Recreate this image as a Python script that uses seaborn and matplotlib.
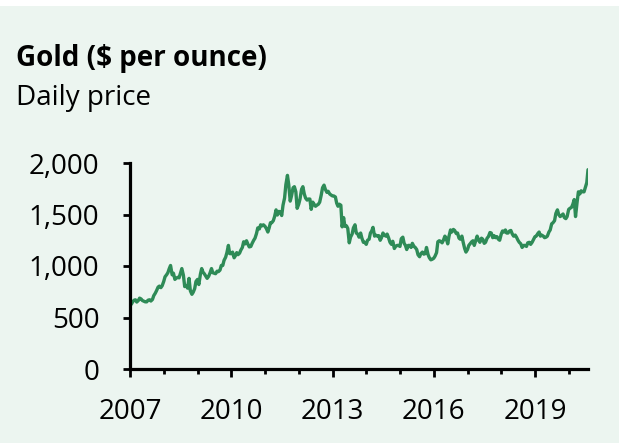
import numpy as np
import pandas as pd
import seaborn as sns
import matplotlib.pyplot as plt
import matplotlib.dates as mdates
from matplotlib.patches import Rectangle

# Preço do ouro (US$ por onça), dois valores por mês (dia 1 e dia 15)
gold_2007 = [632, 628, 655, 668, 672, 650, 665, 688, 680, 665, 658, 652,
             652, 668, 672, 660, 675, 712, 735, 760, 795, 805, 790, 808]
gold_2008 = [850, 895, 915, 935, 975, 1005, 915, 930, 870, 882, 890, 885,
             935, 975, 910, 800, 810, 785, 880, 760, 725, 745, 780, 850]
gold_2009 = [870, 820, 920, 975, 940, 925, 900, 880, 900, 930, 975, 935,
             930, 925, 950, 945, 960, 1005, 1005, 1055, 1085, 1130, 1200, 1120]
gold_2010 = [1120, 1135, 1080, 1100, 1130, 1110, 1125, 1155, 1180, 1235, 1215, 1245,
             1210, 1185, 1190, 1220, 1250, 1270, 1315, 1370, 1360, 1400, 1390, 1400]
gold_2011 = [1385, 1365, 1330, 1370, 1420, 1420, 1440, 1480, 1545, 1495, 1530, 1525,
             1490, 1590, 1660, 1790, 1880, 1790, 1630, 1680, 1760, 1770, 1720, 1560]
gold_2012 = [1600, 1650, 1745, 1770, 1700, 1660, 1640, 1650, 1650, 1550, 1620, 1600,
             1580, 1590, 1600, 1620, 1690, 1760, 1785, 1745, 1715, 1725, 1700, 1690]
gold_2013 = [1680, 1680, 1670, 1610, 1580, 1600, 1590, 1380, 1470, 1385, 1390, 1365,
             1225, 1280, 1310, 1370, 1400, 1320, 1310, 1280, 1320, 1270, 1230, 1230]
gold_2014 = [1210, 1250, 1260, 1320, 1340, 1375, 1290, 1300, 1290, 1295, 1250, 1275,
             1320, 1300, 1290, 1310, 1270, 1230, 1210, 1240, 1170, 1190, 1200, 1200]
gold_2015 = [1190, 1265, 1280, 1220, 1200, 1160, 1200, 1200, 1180, 1220, 1190, 1180,
             1160, 1110, 1090, 1120, 1135, 1115, 1120, 1180, 1110, 1080, 1060, 1065]
gold_2016 = [1075, 1095, 1130, 1235, 1245, 1240, 1225, 1250, 1290, 1270, 1215, 1290,
             1350, 1330, 1355, 1345, 1315, 1320, 1270, 1260, 1290, 1230, 1170, 1135]
gold_2017 = [1160, 1200, 1220, 1235, 1245, 1200, 1250, 1290, 1250, 1230, 1270, 1260,
             1220, 1230, 1270, 1285, 1325, 1320, 1275, 1295, 1275, 1285, 1260, 1250]
gold_2018 = [1310, 1340, 1330, 1350, 1320, 1320, 1340, 1345, 1310, 1290, 1300, 1280,
             1250, 1230, 1215, 1180, 1200, 1200, 1190, 1225, 1230, 1210, 1230, 1255]
gold_2019 = [1285, 1290, 1315, 1330, 1290, 1300, 1290, 1275, 1280, 1290, 1330, 1350,
             1410, 1420, 1440, 1510, 1545, 1500, 1480, 1490, 1505, 1470, 1460, 1480]
gold_2020 = [1550, 1560, 1570, 1600, 1645, 1480, 1620, 1720, 1700, 1730, 1720, 1720,
             1770, 1810, 1935]

prices = (gold_2007 + gold_2008 + gold_2009 + gold_2010 + gold_2011 + gold_2012 + gold_2013
          + gold_2014 + gold_2015 + gold_2016 + gold_2017 + gold_2018 + gold_2019 + gold_2020)
dates = list(pd.date_range('2007-01-01', '2020-07-15', freq='SMS')) + [pd.Timestamp('2020-07-28')]

df = pd.DataFrame({'date': dates, 'price': prices})

major_years = [2007, 2010, 2013, 2016, 2019]
y_ticks = [0, 500, 1000, 1500, 2000]

bg = '#ECF5F0'
line_color = '#2E8B57'

sns.set_style('ticks')
plt.rcParams['font.family'] = ['Open Sans', 'DejaVu Sans']
plt.rcParams['text.color'] = 'black'

fig = plt.figure(figsize=(6.19, 4.43), dpi=100, facecolor=bg)
fig.patches.append(Rectangle((0, 1 - 6 / 443), 1, 6 / 443, transform=fig.transFigure,
                             facecolor='white', edgecolor='none', zorder=-1))
ax = fig.add_axes([130 / 619, 1 - 369 / 443, 458 / 619, 206 / 443])
ax.set_facecolor(bg)

sns.lineplot(data=df, x='date', y='price', color=line_color, linewidth=2.4, ax=ax)

ax.set_xlim(pd.Timestamp('2007-01-01'), pd.Timestamp('2020-07-28'))
ax.set_ylim(0, 2000)
ax.set_yticks(y_ticks)
ax.set_yticklabels([f'{v:,}' for v in y_ticks])
ax.set_xticks([pd.Timestamp(f'{y}-01-01') for y in major_years])
ax.set_xticklabels([str(y) for y in major_years])
ax.xaxis.set_minor_locator(mdates.YearLocator(1))

for side in ['top', 'right']:
    ax.spines[side].set_visible(False)
for side in ['left', 'bottom']:
    ax.spines[side].set_linewidth(2.3)
    ax.spines[side].set_color('black')

ax.tick_params(axis='x', which='major', length=6, width=2, pad=15, labelsize=20, colors='black')
ax.tick_params(axis='x', which='minor', length=3.5, width=2, colors='black')
ax.tick_params(axis='y', which='major', length=5, width=2, pad=17, labelsize=20, colors='black')
ax.set_xlabel('')
ax.set_ylabel('')

fig.text(16 / 619, 1 - 66 / 443, 'Gold ($ per ounce)', fontsize=20, fontweight='bold',
         va='baseline', ha='left')
fig.text(16 / 619, 1 - 105 / 443, 'Daily price', fontsize=20, va='baseline', ha='left')

fig.savefig('out.png', dpi=100, facecolor=bg)
